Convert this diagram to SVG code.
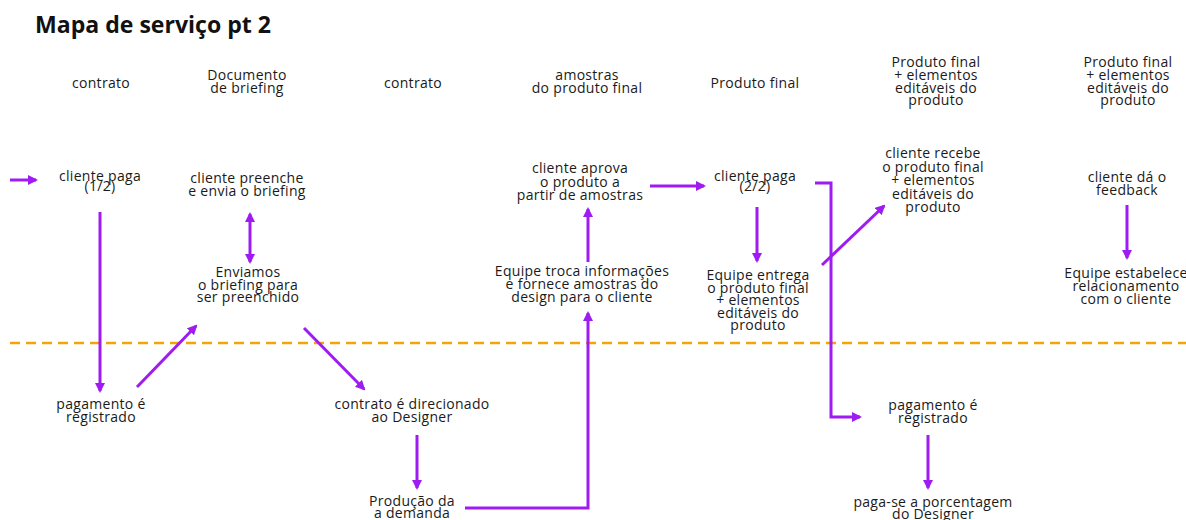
<svg xmlns="http://www.w3.org/2000/svg" width="1186" height="520" viewBox="0 0 1186 520">
<style>
.t{font-family:"Open Sans","Liberation Sans",sans-serif;font-size:14px;letter-spacing:0.3px;font-weight:500;fill:#1a1a1a;text-anchor:middle}
.title{font-family:"Open Sans","Liberation Sans",sans-serif;font-size:23px;font-weight:700;fill:#111}
.c{fill:none;stroke:#9E1CF2;stroke-width:3}
.a{marker-end:url(#ah)}
</style>
<defs>
<marker id="ah" markerUnits="userSpaceOnUse" markerWidth="10" markerHeight="10" viewBox="0 0 10 10" refX="8" refY="5" orient="auto-start-reverse">
<path d="M0,0 L10,5 L0,10 z" fill="#9E1CF2"/>
</marker>
</defs>
<rect width="1186" height="520" fill="#fff"/>
<text class="title" x="35" y="33" textLength="236" lengthAdjust="spacingAndGlyphs">Mapa de serviço pt 2</text>

<g id="evidence">
<text class="t" x="101" y="88">contrato</text>
<text class="t" x="247" y="80">Documento<tspan x="247" dy="13">de briefing</tspan></text>
<text class="t" x="413" y="88">contrato</text>
<text class="t" x="587" y="80">amostras<tspan x="587" dy="13">do produto final</tspan></text>
<text class="t" x="755" y="88">Produto final</text>
<text class="t" x="936" y="67">Produto final<tspan x="936" dy="12.8">+ elementos</tspan><tspan x="936" dy="12.8">editáveis do</tspan><tspan x="936" dy="12.8">produto</tspan></text>
<text class="t" x="1128" y="67">Produto final<tspan x="1128" dy="12.8">+ elementos</tspan><tspan x="1128" dy="12.8">editáveis do</tspan><tspan x="1128" dy="12.8">produto</tspan></text>
</g>

<line x1="10" y1="343" x2="1186" y2="343" stroke="#F5A500" stroke-width="2.5" stroke-dasharray="10 6"/>

<g id="n-paga1"><text class="t" x="100" y="181">cliente paga<tspan x="100" dy="10">(1/2)</tspan></text></g>
<g id="n-preenche"><text class="t" x="247" y="183">cliente preenche<tspan x="247" dy="12.5">e envia o briefing</tspan></text></g>
<g id="n-enviamos"><text class="t" x="248" y="277">Enviamos<tspan x="248" dy="12.5">o briefing para</tspan><tspan x="248" dy="12.5">ser preenchido</tspan></text></g>
<g id="n-aprova"><text class="t" x="580" y="173">cliente aprova<tspan x="580" dy="13.5">o produto a</tspan><tspan x="580" dy="13.5">partir de amostras</tspan></text></g>
<g id="n-troca"><text class="t" x="582" y="276">Equipe troca informações<tspan x="582" dy="13">e fornece amostras do</tspan><tspan x="582" dy="13">design para o cliente</tspan></text></g>
<g id="n-paga2"><text class="t" x="755" y="181">cliente paga<tspan x="755" dy="10">(2/2)</tspan></text></g>
<g id="n-entrega"><text class="t" x="758" y="280">Equipe entrega<tspan x="758" dy="12.5">o produto final</tspan><tspan x="758" dy="12.5">+ elementos</tspan><tspan x="758" dy="12.5">editáveis do</tspan><tspan x="758" dy="12.5">produto</tspan></text></g>
<g id="n-recebe"><text class="t" x="933" y="158">cliente recebe<tspan x="933" dy="13.5">o produto final</tspan><tspan x="933" dy="13.5">+ elementos</tspan><tspan x="933" dy="13.5">editáveis do</tspan><tspan x="933" dy="13.5">produto</tspan></text></g>
<g id="n-feedback"><text class="t" x="1127" y="182">cliente dá o<tspan x="1127" dy="13">feedback</tspan></text></g>
<g id="n-relacionamento"><text class="t" x="1126" y="278">Equipe estabelece<tspan x="1126" dy="13">relacionamento</tspan><tspan x="1126" dy="13">com o cliente</tspan></text></g>
<g id="n-registrado1"><text class="t" x="101" y="409">pagamento é<tspan x="101" dy="13">registrado</tspan></text></g>
<g id="n-direcionado"><text class="t" x="412" y="409">contrato é direcionado<tspan x="412" dy="13">ao Designer</tspan></text></g>
<g id="n-producao"><text class="t" x="412" y="506">Produção da<tspan x="412" dy="11.5">a demanda</tspan></text></g>
<g id="n-registrado2"><text class="t" x="933" y="410">pagamento é<tspan x="933" dy="12.5">registrado</tspan></text></g>
<g id="n-porcentagem"><text class="t" x="933" y="507">paga-se a porcentagem<tspan x="933" dy="11.5">do Designer</tspan></text></g>

<g id="connectors">
<line class="c a" x1="10" y1="180" x2="36" y2="180"/>
<line class="c a" x1="100" y1="212" x2="100" y2="391"/>
<line class="c a" x1="137" y1="387" x2="196" y2="326"/>
<line class="c a" x1="250" y1="214" x2="250" y2="262" marker-start="url(#ah)"/>
<line class="c a" x1="304" y1="328" x2="364" y2="389"/>
<line class="c a" x1="417" y1="435" x2="417" y2="488"/>
<polyline class="c a" points="465,508 588,508 588,313"/>
<line class="c a" x1="588" y1="262" x2="588" y2="209"/>
<line class="c a" x1="650" y1="186" x2="704" y2="186"/>
<line class="c a" x1="757" y1="207" x2="757" y2="261"/>
<polyline class="c a" points="815,183 831,183 831,417 860,417"/>
<line class="c a" x1="822" y1="265" x2="884" y2="206"/>
<line class="c a" x1="928" y1="435" x2="928" y2="488"/>
<line class="c a" x1="1127" y1="205" x2="1127" y2="258"/>
</g>
</svg>
